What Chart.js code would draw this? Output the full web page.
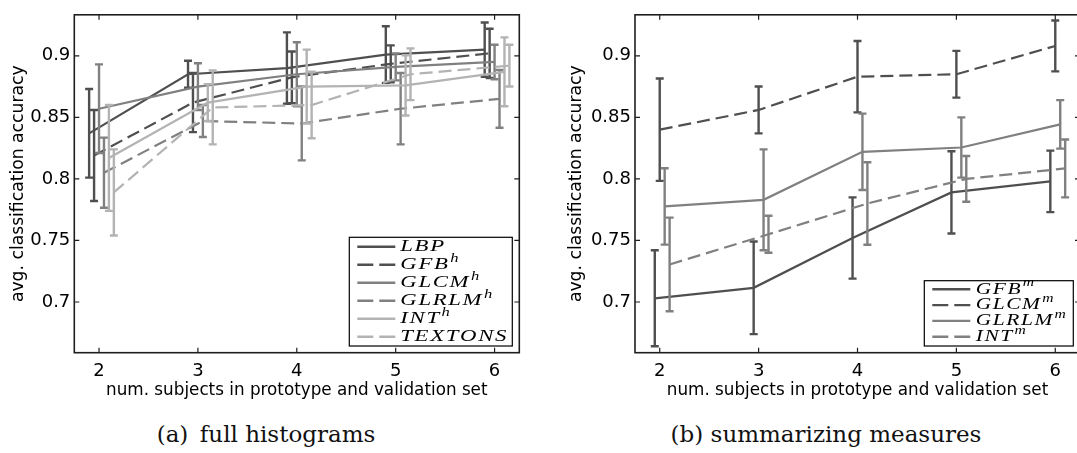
<!DOCTYPE html>
<html><head><meta charset="utf-8">
<script src="https://cdn.jsdelivr.net/npm/chart.js@4/dist/chart.umd.min.js"></script>
<style>
html,body{margin:0;padding:0;background:#fff;overflow:hidden;width:1077px;height:453px;position:relative;}
#c1{position:absolute;left:0;top:0;}
#c2{position:absolute;left:540px;top:0;}
.cap{position:absolute;top:421px;font-family:"DejaVu Serif";font-size:23px;line-height:26px;white-space:nowrap;color:#111;transform:translateX(-50%);}
</style></head><body>
<canvas id="c1" width="540" height="410"></canvas>
<canvas id="c2" width="560" height="410"></canvas>
<div class="cap" style="left:266px">(a)&ensp;full histograms</div>
<div class="cap" style="left:826px">(b) summarizing measures</div>
<script>
// ---------- data ----------
const xCategories = [2, 3, 4, 5, 6];
const yTickValues = [0.7, 0.75, 0.8, 0.85, 0.9];
const xTitle = 'num. subjects in prototype and validation set';
const yTitle = 'avg. classification accuracy';

// (a) full histograms
const labelsA = ['LBP', 'GFB^h', 'GLCM^h', 'GLRLM^h', 'INT^h', 'TEXTONS'];
const lbp       = [0.837, 0.885, 0.890, 0.901, 0.905];
const lbpErr    = [0.036, 0.011, 0.029, 0.023, 0.022];
const gfbH      = [0.819, 0.862, 0.8825, 0.8935, 0.902];
const gfbHErr   = [0.037, 0.024, 0.021, 0.015, 0.020];
const glcmH     = [0.857, 0.875, 0.885, 0.891, 0.895];
const glcmHErr  = [0.036, 0.019, 0.026, 0.011, 0.014];
const glrlmH    = [0.805, 0.847, 0.845, 0.857, 0.865];
const glrlmHErr = [0.0285, 0.013, 0.030, 0.029, 0.0235];
const intH      = [0.817, 0.862, 0.875, 0.876, 0.887];
const intHErr   = [0.043, 0.015, 0.030, 0.0245, 0.028];
const textons   = [0.789, 0.858, 0.860, 0.885, 0.892];
const textonsErr= [0.035, 0.030, 0.027, 0.021, 0.017];

// (b) summarizing measures
const labelsB = ['GFB^m', 'GLCM^m', 'GLRLM^m', 'INT^m'];
const gfbM      = [0.703, 0.7115, 0.752, 0.789, 0.798];
const gfbMErr   = [0.039, 0.0376, 0.033, 0.0334, 0.025];
const glcmM     = [0.840, 0.856, 0.883, 0.885, 0.908];
const glcmMErr  = [0.0416, 0.019, 0.029, 0.019, 0.0207];
const glrlmM    = [0.7776, 0.783, 0.822, 0.8255, 0.8443];
const glrlmMErr = [0.031, 0.041, 0.031, 0.0245, 0.0197];
const intM      = [0.7305, 0.755, 0.780, 0.800, 0.8085];
const intMErr   = [0.038, 0.015, 0.0335, 0.0186, 0.0235];

// ---------- styles ----------
const DARK = '#4f4f4f', MID = '#808080', LIGHT = '#b3b3b3';
const DASH = [13, 6];
Chart.defaults.color = '#000';
Chart.defaults.font.family = '"DejaVu Sans", sans-serif';

function makeSets(labels, values, errs, colors, dashes, offsets) {
  return labels.map((lab, k) => ({
    label: lab,
    data: xCategories.map((c, i) => ({x: c + offsets[k], y: values[k][i]})),
    err: errs[k],
    borderColor: colors[k],
    backgroundColor: colors[k],
    borderDash: dashes[k],
    borderWidth: 2.2,
    pointRadius: 0,
    tension: 0,
    order: -k
  }));
}

const errorBars = {
  id: 'errorBars',
  afterDatasetDraw(chart, args) {
    const ds = chart.data.datasets[args.index];
    if (!ds.err) return;
    const {ctx, scales: {x, y}} = chart;
    ctx.save();
    ctx.strokeStyle = ds.borderColor;
    ctx.lineWidth = 2.4;
    ctx.setLineDash([]);
    const cw = 4;
    ds.data.forEach((p, i) => {
      const px = x.getPixelForValue(p.x);
      const yt = y.getPixelForValue(p.y + ds.err[i]);
      const yb = y.getPixelForValue(p.y - ds.err[i]);
      ctx.beginPath();
      ctx.moveTo(px, yt); ctx.lineTo(px, yb);
      ctx.moveTo(px - cw, yt); ctx.lineTo(px + cw, yt);
      ctx.moveTo(px - cw, yb); ctx.lineTo(px + cw, yb);
      ctx.stroke();
    });
    ctx.restore();
  }
};

const frame = {
  id: 'frame',
  afterDraw(chart) {
    const {ctx, chartArea: a, scales: {x, y}} = chart;
    ctx.save();
    ctx.strokeStyle = '#1e1e1e';
    ctx.lineWidth = 1.6;
    ctx.strokeRect(a.left, a.top, a.right - a.left, a.bottom - a.top);
    const L = 5;
    ctx.lineWidth = 1.2;
    ctx.beginPath();
    x.ticks.forEach(t => {
      const p = x.getPixelForValue(t.value);
      ctx.moveTo(p, a.bottom); ctx.lineTo(p, a.bottom - L);
      ctx.moveTo(p, a.top); ctx.lineTo(p, a.top + L);
    });
    y.ticks.forEach(t => {
      const p = y.getPixelForValue(t.value);
      ctx.moveTo(a.left, p); ctx.lineTo(a.left + L, p);
      ctx.moveTo(a.right, p); ctx.lineTo(a.right - L, p);
    });
    ctx.stroke();
    ctx.restore();
  }
};

function drawMathLabel(ctx, text, x, y, sx, sp) {
  const parts = text.split('^');
  ctx.save();
  ctx.translate(x, y);
  ctx.scale(sx, 1);
  ctx.fillStyle = '#000';
  ctx.textBaseline = 'middle';
  ctx.textAlign = 'left';
  ctx.font = 'italic 16.5px "Liberation Serif"';
  let cx = 0;
  for (const ch of parts[0]) {
    ctx.fillText(ch, cx, 0);
    cx += ctx.measureText(ch).width + sp;
  }
  if (parts[1]) {
    ctx.font = 'italic 12px "Liberation Serif"';
    ctx.fillText(parts[1], cx + 0.5, -6);
  }
  ctx.restore();
}

const boxLegend = {
  id: 'boxLegend',
  afterDraw(chart, args, o) {
    const {ctx, chartArea: a} = chart;
    const right = a.right - o.dr, bottom = a.bottom - o.db;
    const left = right - o.w, top = bottom - o.h;
    ctx.save();
    ctx.fillStyle = '#fff';
    ctx.fillRect(left, top, o.w, o.h);
    ctx.strokeStyle = '#000';
    ctx.lineWidth = 1.2;
    ctx.strokeRect(left, top, o.w, o.h);
    chart.data.datasets.forEach((ds, i) => {
      const yy = top + o.first + i * o.step;
      ctx.strokeStyle = ds.borderColor;
      ctx.lineWidth = 2.4;
      ctx.setLineDash(ds.borderDash.length ? [16, 6] : []);
      ctx.beginPath();
      ctx.moveTo(left + 8, yy); ctx.lineTo(left + 8 + o.len, yy);
      ctx.stroke();
      ctx.setLineDash([]);
      drawMathLabel(ctx, ds.label, left + o.tx, yy, o.sx, o.sp);
    });
    ctx.restore();
  }
};

function makeChart(id, datasets, yAxisWidth, yTitlePad, padRight, legendOpts) {
  return new Chart(document.getElementById(id), {
    type: 'line',
    data: {datasets},
    plugins: [errorBars, frame, boxLegend],
    options: {
      responsive: false,
      animation: false,
      events: [],
      layout: {padding: {top: 2, right: padRight, bottom: 0, left: 0}},
      plugins: {legend: {display: false}, tooltip: {enabled: false}, boxLegend: legendOpts},
      scales: {
        x: {
          type: 'linear', min: 1.75, max: 6.25,
          afterBuildTicks: s => { s.ticks = xCategories.map(v => ({value: v})); },
          afterFit: s => { s.height = 57.3; },
          grid: {display: false, drawTicks: false},
          border: {display: false},
          ticks: {font: {size: 18}, padding: 8, maxRotation: 0, callback: v => String(v)},
          title: {display: true, text: xTitle, font: {size: 16.8, lineHeight: 1}, padding: {top: 0, bottom: 10.5}}
        },
        y: {
          type: 'linear', min: 0.6588, max: 0.9333,
          afterBuildTicks: s => { s.ticks = yTickValues.map(v => ({value: v})); },
          afterFit: s => { s.width = yAxisWidth; },
          grid: {display: false, drawTicks: false},
          border: {display: false},
          ticks: {font: {size: 18}, padding: 4, callback: v => String(v)},
          title: {display: true, text: yTitle, font: {size: 17.2, lineHeight: 1}, padding: {top: yTitlePad, bottom: 0}}
        }
      }
    }
  });
}

const setsA = makeSets(labelsA,
  [lbp, gfbH, glcmH, glrlmH, intH, textons],
  [lbpErr, gfbHErr, glcmHErr, glrlmHErr, intHErr, textonsErr],
  [DARK, DARK, MID, MID, LIGHT, LIGHT],
  [[], DASH, [], DASH, [], DASH],
  [-0.1, -0.05, 0, 0.05, 0.1, 0.15]);

const setsB = makeSets(labelsB,
  [gfbM, glcmM, glrlmM, intM],
  [gfbMErr, glcmMErr, glrlmMErr, intMErr],
  [DARK, DARK, MID, MID],
  [[], DASH, [], DASH],
  [-0.05, 0, 0.05, 0.1]);

makeChart('c1', setsA, 74.3, 9.5, 20.7,
  {dr: 7, db: 6.7, w: 163, h: 108.7, first: 9.4, step: 18, len: 38, tx: 51, sx: 1.38, sp: 1.2});
makeChart('c2', setsB, 95, 28, 20,
  {dr: 6.7, db: 6.7, w: 149, h: 65.3, first: 8.6, step: 15.8, len: 38, tx: 51.4, sx: 1.3, sp: 1.2});
</script>
</body></html>
